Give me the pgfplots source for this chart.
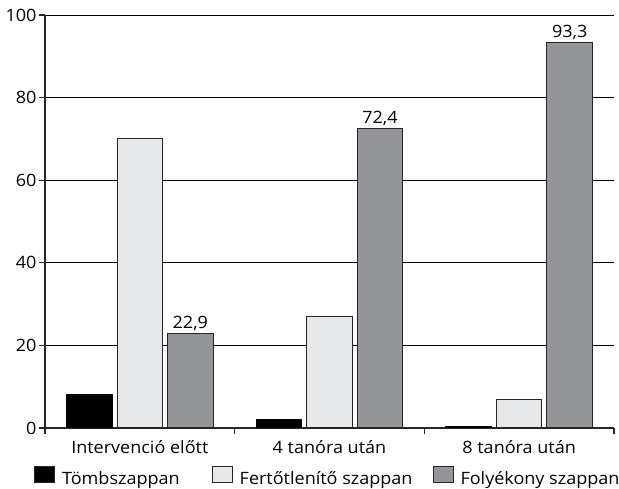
\documentclass[border=0pt]{standalone}
\usepackage{pgfplots}
\pgfplotsset{compat=1.18}
\usepackage{fontspec}
\setmainfont{Open Sans}[FakeStretch=1.06]
\definecolor{lightbar}{HTML}{E6E7E8}
\definecolor{darkbar}{HTML}{939598}
\newcommand\lblfont{\fontsize{17}{20}\selectfont}
\begin{document}
\begin{tikzpicture}
\begin{axis}[
  scale only axis,
  width=569pt, height=413pt,
  xmin=-0.5, xmax=2.5,
  ymin=0, ymax=100,
  ytick={0,20,40,60,80,100},
  xtick={-0.5,0.5,1.5,2.5},
  x tick label as interval,
  xticklabels={Intervenció előtt,4 tanóra után,8 tanóra után},
  axis x line*=bottom,
  axis y line*=left,
  axis line style={line width=1.2pt, color=black!85, -},
  ymajorgrids,
  major grid style={line width=0.9pt, black},
  tick style={line width=1.2pt, black!85},
  major tick length=6pt,
  tick align=outside,
  xtick pos=bottom, ytick pos=left,
  /pgf/number format/assume math mode=true,
  tick label style={font=\lblfont},
  yticklabel style={xshift=1pt},
  xticklabel style={yshift=-3pt},
  ybar=5pt,
  bar width=0.24,
  legend columns=3,
  legend style={draw=none, at={(0.497,-0.119)}, anchor=center,
    font=\lblfont,
    /tikz/column 1/.style={column sep=5pt},
    /tikz/column 2/.style={column sep=30pt},
    /tikz/column 3/.style={column sep=5pt},
    /tikz/column 4/.style={column sep=18pt},
    /tikz/column 5/.style={column sep=5pt}},
  legend image code/.code={\draw[#1,line width=1pt,draw=black!85] (0pt,-4pt) rectangle (20pt,12pt);},
  nodes near coords style={font=\lblfont, yshift=-1pt},
]
\addplot[fill=black, draw=black, line width=1pt] coordinates {(0,8) (1,2) (2,0.3)};
\addplot[fill=lightbar, draw=black!85, line width=1pt] coordinates {(0,70) (1,27) (2,7)};
\addplot[fill=darkbar, draw=black!85, line width=1pt,
  nodes near coords, point meta=explicit symbolic] coordinates {(0,22.9)[22,9] (1,72.4)[72,4] (2,93.3)[93,3]};
\legend{Tömbszappan,Fertőtlenítő szappan,Folyékony szappan}
\end{axis}
\pgfresetboundingbox
\path[use as bounding box] (-45pt,-61pt) rectangle (574pt,428pt);
\end{tikzpicture}
\end{document}
